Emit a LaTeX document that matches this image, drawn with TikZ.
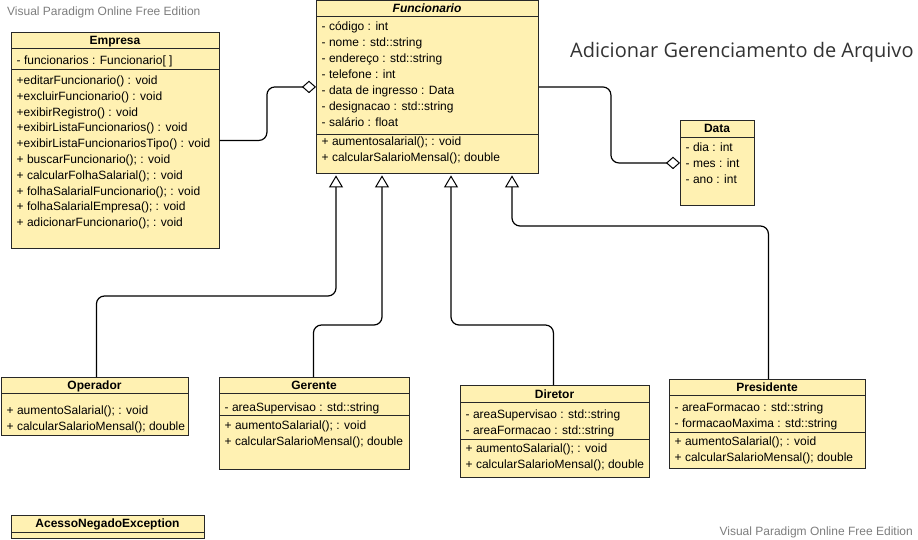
\documentclass[tikz,border=0pt]{standalone}
\usepackage{fontspec}
\setmainfont{Liberation Sans}
\newfontfamily\titlefont{Open Sans}
\usetikzlibrary{arrows.meta,positioning}
\definecolor{umlfill}{RGB}{255,241,178}
\definecolor{umlline}{RGB}{40,40,40}
\definecolor{wmgray}{RGB}{125,125,125}

\begin{document}
\begin{tikzpicture}[
    x=1pt, y=-1pt,
    every node/.style={font=\fontsize{12}{14}\selectfont},
    cls/.style={draw=umlline, fill=umlfill, line width=0.9pt, anchor=north west, inner sep=0pt},
    sep/.style={draw=umlline, line width=0.9pt},
    cname/.style={anchor=base, inner sep=0pt, font=\fontsize{12}{14}\selectfont\bfseries},
    member/.style={anchor=base west, inner sep=0pt},
    wmark/.style={inner sep=0pt, text=wmgray},
    agg/.style={-{Diamond[open, length=14pt, width=12.5pt, line width=1pt]}, line width=1.2pt},
    gen/.style={-{Triangle[open, length=12pt, width=14pt, line width=1pt]}, line width=1.2pt}
]
\useasboundingbox (0,0) rectangle (918,540);

% watermarks and title
\node[wmark, anchor=base west] (wmtop) at (7,16) {Visual Paradigm Online Free Edition};
\node[wmark, anchor=base east] (wmbot) at (913,535.5) {Visual Paradigm Online Free Edition};
\node[inner sep=0pt, anchor=base west, font=\titlefont\fontsize{20}{22}\selectfont, text=black!80] (title) at (570,58) {Adicionar Gerenciamento de Arquivo};

% Empresa
\node[cls, minimum width=208pt, minimum height=216pt] (emp) at (11,32) {};
\draw[sep] ([yshift=-16pt]emp.north west) -- ([yshift=-16pt]emp.north east);
\draw[sep] ([yshift=-37pt]emp.north west) -- ([yshift=-37pt]emp.north east);
\node[cname] at (115,45) {Empresa};
\node[member] at (16.5,65) {- funcionarios : Funcionario[ ]};
\foreach \m [count=\i] in {+editarFuncionario() : void, +excluirFuncionario() : void,
    +exibirRegistro() : void, +exibirListaFuncionarios() : void,
    +exibirListaFuncionariosTipo() : void, + buscarFuncionario(); : void,
    + calcularFolhaSalarial(); : void, + folhaSalarialFuncionario(); : void,
    + folhaSalarialEmpresa(); : void, + adicionarFuncionario(); : void}
  \node[member] at (16.5,{84.5+15.8*(\i-1)}) {\m};

% Funcionario
\node[cls, minimum width=222pt, minimum height=173pt] (fun) at (316,0) {};
\draw[sep] ([yshift=-16pt]fun.north west) -- ([yshift=-16pt]fun.north east);
\draw[sep] ([yshift=-134pt]fun.north west) -- ([yshift=-134pt]fun.north east);
\node[cname, font=\fontsize{12}{14}\selectfont\bfseries\itshape] at (427,12.5) {Funcionario};
\foreach \m [count=\i] in {- código : int, - nome : std::string, - endereço : std::string,
    - telefone : int, - data de ingresso : Data, - designacao : std::string, - salário : float}
  \node[member] at (321.5,{30.3+16.1*(\i-1)}) {\m};
\node[member] at (321.5,146) {+ aumentosalarial(); : void};
\node[member] at (321.5,161.5) {+ calcularSalarioMensal(); double};

% Data
\node[cls, minimum width=74pt, minimum height=85pt] (dat) at (680,120) {};
\draw[sep] ([yshift=-17pt]dat.north west) -- ([yshift=-17pt]dat.north east);
\node[cname] at (717,133) {Data};
\node[member] at (685.5,152) {- dia : int};
\node[member] at (685.5,168) {- mes : int};
\node[member] at (685.5,184) {- ano : int};

% Operador
\node[cls, minimum width=187pt, minimum height=58pt] (op) at (1,377) {};
\draw[sep] ([yshift=-16pt]op.north west) -- ([yshift=-16pt]op.north east);
\node[cname] at (94.5,389.5) {Operador};
\node[member] at (6.5,414.5) {+ aumentoSalarial(); : void};
\node[member] at (6.5,430.3) {+ calcularSalarioMensal(); double};

% Gerente
\node[cls, minimum width=190pt, minimum height=92pt] (ger) at (219,377) {};
\draw[sep] ([yshift=-16pt]ger.north west) -- ([yshift=-16pt]ger.north east);
\draw[sep] ([yshift=-38pt]ger.north west) -- ([yshift=-38pt]ger.north east);
\node[cname] at (314,389.5) {Gerente};
\node[member] at (224.5,411) {- areaSupervisao : std::string};
\node[member] at (224.5,429.5) {+ aumentoSalarial(); : void};
\node[member] at (224.5,445.5) {+ calcularSalarioMensal(); double};

% Diretor
\node[cls, minimum width=189pt, minimum height=92pt] (dir) at (460,385) {};
\draw[sep] ([yshift=-17pt]dir.north west) -- ([yshift=-17pt]dir.north east);
\draw[sep] ([yshift=-54pt]dir.north west) -- ([yshift=-54pt]dir.north east);
\node[cname] at (554.5,398) {Diretor};
\node[member] at (465.5,418) {- areaSupervisao : std::string};
\node[member] at (465.5,434.5) {- areaFormacao : std::string};
\node[member] at (465.5,452.5) {+ aumentoSalarial(); : void};
\node[member] at (465.5,468) {+ calcularSalarioMensal(); double};

% Presidente
\node[cls, minimum width=196pt, minimum height=89pt] (pre) at (669,379) {};
\draw[sep] ([yshift=-16pt]pre.north west) -- ([yshift=-16pt]pre.north east);
\draw[sep] ([yshift=-53pt]pre.north west) -- ([yshift=-53pt]pre.north east);
\node[cname] at (767,391.3) {Presidente};
\node[member] at (674.5,411) {- areaFormacao : std::string};
\node[member] at (674.5,427.5) {- formacaoMaxima : std::string};
\node[member] at (674.5,445.3) {+ aumentoSalarial(); : void};
\node[member] at (674.5,461) {+ calcularSalarioMensal(); double};

% AcessoNegadoException
\node[cls, minimum width=193pt, minimum height=23pt] (exc) at (11,515) {};
\draw[sep] ([yshift=-17pt]exc.north west) -- ([yshift=-17pt]exc.north east);
\node[cname] at (107.5,527) {AcessoNegadoException};

% connectors
\coordinate (fop) at ([xshift=20pt, yshift=-1.5pt]fun.south west);
\coordinate (fger) at ([xshift=66pt, yshift=-1.5pt]fun.south west);
\coordinate (fdir) at ([xshift=135pt, yshift=-1.5pt]fun.south west);
\coordinate (fpre) at ([xshift=196pt, yshift=-1.5pt]fun.south west);
\draw[agg] (emp.east) [rounded corners=8pt] -- ++(47,0) |- (fun.west);
\draw[agg] (fun.east) [rounded corners=8pt] -- ++(72,0) |- (dat.west);
\draw[gen] ([xshift=1.5pt]op.north) [rounded corners=8pt] -- ++(0,-81) -| (fop);
\draw[gen] ([xshift=-1pt]ger.north) [rounded corners=8pt] -- ++(0,-52) -| (fger);
\draw[gen] ([xshift=-1.5pt]dir.north) [rounded corners=8pt] -- ++(0,-60) -| (fdir);
\draw[gen] ([xshift=1pt]pre.north) [rounded corners=8pt] -- ++(0,-153) -| (fpre);
\end{tikzpicture}
\end{document}
